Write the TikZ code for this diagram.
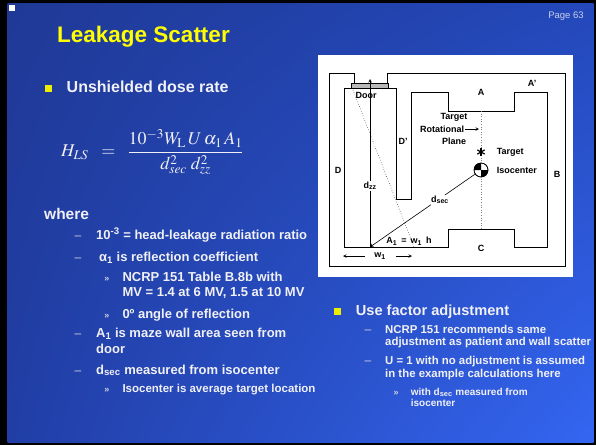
\documentclass[tikz,border=0pt]{standalone}
\usepackage{amsmath}
\usepackage{mathptmx}
\usepackage{fontspec}
\setmainfont{Liberation Sans}
\usepackage{tikz}
\usetikzlibrary{arrows, positioning, calc, shadings}

\definecolor{SLIDEUL}{RGB}{31,57,150}
\definecolor{SLIDEUR}{RGB}{36,72,186}
\definecolor{SLIDELL}{RGB}{33,62,166}
\definecolor{SLIDELR}{RGB}{52,102,242}
\definecolor{TITLEYELLOW}{RGB}{255,255,0}
\definecolor{BULLETYELLOW}{RGB}{238,238,0}
\definecolor{TEXTWHITE}{RGB}{240,240,245}
\definecolor{DASHGRAY}{RGB}{205,210,225}
\definecolor{PAGEGRAY}{RGB}{200,208,232}

\tikzstyle{TITLE}  = [anchor=base west, inner sep=0pt, text=TITLEYELLOW,
                      font=\fontsize{22.5}{27}\selectfont\bfseries]
\tikzstyle{PAGE}   = [inner sep=0pt, text=PAGEGRAY, font=\fontsize{9.5}{11}\selectfont]
\tikzstyle{SQUARE} = [fill=BULLETYELLOW, minimum size=7pt, inner sep=0pt]
\tikzstyle{LVLA}   = [anchor=base west, inner sep=0pt, text=TEXTWHITE,
                      font=\fontsize{16}{19}\selectfont\bfseries]
\tikzstyle{LVLB}   = [anchor=base west, inner sep=0pt, text=TEXTWHITE,
                      font=\fontsize{13}{15}\selectfont\bfseries]
\tikzstyle{LVLC}   = [anchor=base west, inner sep=0pt, text=TEXTWHITE,
                      font=\fontsize{11.5}{14}\selectfont\bfseries]
\tikzstyle{RLVLA}  = [anchor=base west, inner sep=0pt, text=TEXTWHITE,
                      font=\fontsize{14.6}{17}\selectfont\bfseries]
\tikzstyle{RLVLB}  = [anchor=base west, inner sep=0pt, text=TEXTWHITE,
                      font=\fontsize{11.4}{13}\selectfont\bfseries]
\tikzstyle{RLVLC}  = [anchor=base west, inner sep=0pt, text=TEXTWHITE,
                      font=\fontsize{10}{12}\selectfont\bfseries]
\tikzstyle{DASH}   = [anchor=base, inner sep=0pt, text=DASHGRAY,
                      font=\fontsize{12}{14}\selectfont]
\tikzstyle{GUIL}   = [anchor=base, inner sep=0pt, text=DASHGRAY,
                      font=\fontsize{9}{11}\selectfont\bfseries]
\tikzstyle{PLAN}   = [inner sep=0.6pt, text=black, font=\fontsize{9}{10}\selectfont\bfseries]
\tikzstyle{WALL}   = [draw=black, line width=0.8pt]
\tikzstyle{ARROW}  = [->, >=stealth, line width=0.6pt]

\begin{document}
\begin{tikzpicture}[x=1pt, y=-1pt]

		% Slide frame and background
		\fill[black] (0,0) rectangle (596,445);
		\shade[upper left=SLIDEUL, upper right=SLIDEUR, lower left=SLIDELL, lower right=SLIDELR]
		(7.5,3.5) rectangle (593.5,442.5);
		\fill[white] (9,5) rectangle (15,11);

		% Title and page number
		\node(title)[TITLE] at (57,42) {Leakage Scatter};
		\node(page)[PAGE] at (566,16) {Page 63};

		% Left column
		\node(sqa)[SQUARE] at (48.5,88) {};
		\node(unsh)[LVLA] at (66.5,92.5) {Unshielded dose rate};

		\node(formula)[anchor=west, inner sep=0pt, text=TEXTWHITE, font=\fontsize{18}{22}\selectfont]
		at (61,152)
		{
			$H_{LS}\hspace{9pt}=\hspace{8pt}\dfrac{10^{-3}W_{\mathrm{L}}\,U\,\alpha_1\,A_1}{d_{sec}^2\;d_{zz}^2}$
		};

		\node(where)[LVLA, font=\fontsize{15.5}{18}\selectfont\bfseries] at (44,219) {where};

		\node(dsa)[DASH] at (78,239.3) {–};
		\node(ratio)[LVLB] at (96,239.3) {10\textsuperscript{-3} = head-leakage radiation ratio};
		\node(dsb)[DASH] at (78,261) {–};
		\node(alpha)[LVLB] at (99,261) {α\textsubscript{1} is reflection coefficient};
		\node(gla)[GUIL] at (107,281) {»};
		\node(ncrpa)[LVLB] at (122.3,281) {NCRP 151 Table B.8b with};
		\node(ncrpb)[LVLB] at (122.3,296.7) {MV = 1.4 at 6 MV, 1.5 at 10 MV};
		\node(glb)[GUIL] at (107,318.3) {»};
		\node(angle)[LVLB] at (122.3,318.3) {0º angle of reflection};
		\node(dsc)[DASH] at (78,337.7) {–};
		\node(areaa)[LVLB] at (96,337.7) {A\textsubscript{1} is maze wall area seen from};
		\node(areab)[LVLB] at (96,353.3) {door};
		\node(dsd)[DASH] at (78,374) {–};
		\node(dsec)[LVLB] at (96,374) {d\textsubscript{sec} measured from isocenter};
		\node(glc)[GUIL] at (107,392.7) {»};
		\node(avg)[LVLC] at (122.3,392.7) {Isocenter is average target location};

		% Right column
		\node(sqb)[SQUARE] at (337,311) {};
		\node(usef)[RLVLA] at (355.7,315) {Use factor adjustment};
		\node(dse)[DASH] at (368,333.3) {–};
		\node(reca)[RLVLB] at (385,333.3) {NCRP 151 recommends same};
		\node(recb)[RLVLB] at (385,345.7) {adjustment as patient and wall scatter};
		\node(dsf)[DASH] at (368,364.3) {–};
		\node(ua)[RLVLB] at (385,364.3) {U = 1 with no adjustment is assumed};
		\node(ub)[RLVLB] at (385,377.7) {in the example calculations here};
		\node(gld)[GUIL] at (396,395) {»};
		\node(witha)[RLVLC] at (410.7,395) {with d\textsubscript{sec} measured from};
		\node(withb)[RLVLC] at (410.7,406.7) {isocenter};

		% Maze plan
		\fill[white] (318,55) rectangle (573,277);
		\draw[WALL] (354,83) -- (354,73) -- (329,73) -- (329,266) -- (565,266) -- (565,73) -- (387,73) -- (387,83);
		\draw[WALL] (344,88) -- (396,88) -- (396,199) -- (411,199) -- (411,92) -- (448,92) -- (448,111)
		-- (514,111) -- (514,92) -- (547,92) -- (547,247) -- (514,247) -- (514,229) -- (448,229)
		-- (448,247) -- (344,247) -- cycle;
		\filldraw[fill=gray!55, draw=black, line width=0.5pt] (351,83) rectangle (388,88);

		% Points of the plan
		\coordinate(corner) at (370,247);
		\coordinate(dooraim) at (370,79);
		\coordinate(rayfrom) at (353,90);
		\coordinate(rayto) at (414,247);
		\coordinate(planetop) at (481,111);
		\coordinate(planebot) at (481,229);
		\coordinate(planeaim) at (479,129);
		\coordinate(star) at (481,152);
		\coordinate(wleft) at (343,256);
		\coordinate(wright) at (412,256);

		% Dotted lines
		\draw[dotted, gray, line width=0.6pt] (planetop) -- (planebot);
		\draw[dotted, black, line width=0.5pt] (rayfrom) -- (rayto);

		% Target and isocenter
		\foreach \ang in {90,30,-30}
		\draw[line width=1.2pt] ($(star)+(\ang:4.2)$) -- ($(star)+(\ang+180:4.2)$);
		\node(iso)[circle, draw=black, fill=white, line width=0.6pt, minimum size=14pt, inner sep=0pt] at (481,170) {};
		\fill[black] (iso.center) -- ++(-7,0) arc[start angle=180, end angle=270, radius=7] -- cycle;
		\fill[black] (iso.center) -- ++(7,0) arc[start angle=0, end angle=90, radius=7] -- cycle;
		\draw[line width=0.6pt] (iso) circle[radius=7];

		% Distances
		\draw[ARROW] (corner) -- (dooraim);
		\draw[ARROW] (iso) -- (corner);
		\node(dzz)[PLAN, fill=white] at (370,186) {d\textsubscript{zz}};
		\node(dsecl)[PLAN, fill=white] at (440,200) {d\textsubscript{sec}};

		% Labels
		\node(door)[PLAN] at (366,95) {Door};
		\node(wa)[PLAN] at (481,92) {A};
		\node(wap)[PLAN] at (532,83) {A'};
		\node(wdp)[PLAN] at (403,141) {D'};
		\node(wd)[PLAN] at (338,170) {D};
		\node(wb)[PLAN] at (557,174) {B};
		\node(wc)[PLAN] at (481,248) {C};
		\node(tga)[PLAN] at (454,117) {Target};
		\node(rot)[PLAN] at (442,129) {Rotational};
		\node(pla)[PLAN] at (454,141) {Plane};
		\node(tgt)[PLAN, anchor=west] at (496,152) {Target};
		\node(isol)[PLAN, anchor=west] at (496,170) {Isocenter};
		\node(area)[PLAN] at (409,241) {A\textsubscript{1} \,=\, w\textsubscript{1} \,h};
		\node(wone)[PLAN] at (380,256) {w\textsubscript{1}};

		% Arrows of the labels
		\draw[ARROW] (rot.east) -- (planeaim);
		\draw[ARROW] ([xshift=-9pt]wone.west) -- (wleft);
		\draw[ARROW] ([xshift=9pt]wone.east) -- (wright);

\end{tikzpicture}
\end{document}
